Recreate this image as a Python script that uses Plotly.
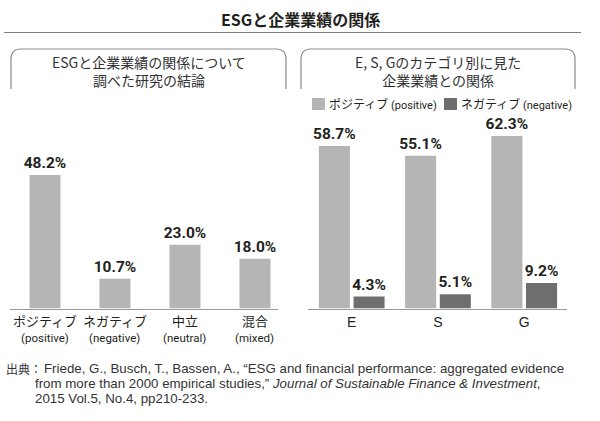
import plotly.graph_objects as go

W, H = 600, 421
def px(x): return x / W
def py(y): return 1 - y / H

# ---- data ----
main_title = "ESGと企業業績の関係"
left_title = "ESGと企業業績の関係について<br>調べた研究の結論"
right_title = "E, S, Gのカテゴリ別に見た<br>企業業績との関係"

left_cats = ["ポジティブ", "ネガティブ", "中立", "混合"]
left_sub = ["positive", "negative", "neutral", "mixed"]
left_vals = [48.2, 10.7, 23.0, 18.0]

right_cats = ["E", "S", "G"]
series_names = ["ポジティブ", "ネガティブ"]
series_sub = ["positive", "negative"]
pos_vals = [58.7, 55.1, 62.3]
neg_vals = [4.3, 5.1, 9.2]

source_head = "出典："
source_lines = [
    "Friede, G., Busch, T., Bassen, A., “ESG and financial performance: aggregated evidence",
    "from more than 2000 empirical studies,” <i>Journal of Sustainable Finance &amp; Investment</i>,",
    "2015 Vol.5, No.4, pp210-233.",
]

# ---- style ----
C_POS = "#b5b5b5"
C_NEG = "#6e6e6e"
CJK = "Noto Sans CJK JP"
NARROW = "Liberation Sans Narrow, Roboto, Noto Sans CJK JP"
LAT = "Liberation Sans, Arial, Noto Sans CJK JP"
TXT = "#231f20"

fig = go.Figure()

lbl_font = dict(family=NARROW, size=15.5, color=TXT, weight="bold")

fig.add_trace(go.Bar(
    x=left_cats, y=left_vals, xaxis="x", yaxis="y",
    marker=dict(color=C_POS, line=dict(width=0)), width=0.443,
    text=[f"{v:.1f}%" for v in left_vals], textposition="outside",
    constraintext="none",
    textfont=lbl_font, cliponaxis=False, showlegend=False,
))
fig.add_trace(go.Bar(
    x=right_cats, y=pos_vals, xaxis="x2", yaxis="y2", name=series_names[0],
    marker=dict(color=C_POS, line=dict(width=0)), width=0.36, offset=-0.381,
    text=[f"{v:.1f}%" for v in pos_vals], textposition="outside",
    constraintext="none",
    textfont=lbl_font, cliponaxis=False, showlegend=False,
))
fig.add_trace(go.Bar(
    x=right_cats, y=neg_vals, xaxis="x2", yaxis="y2", name=series_names[1],
    marker=dict(color=C_NEG, line=dict(width=0)), width=0.36, offset=0.021,
    text=[f"{v:.1f}%" for v in neg_vals], textposition="outside",
    constraintext="none",
    textfont=lbl_font, cliponaxis=False, showlegend=False,
))

ytop = 120
ymax = (308.5 - ytop) / 2.77
ax_common = dict(showline=True, linecolor="#9a9a9a", linewidth=1.5, ticks="",
                 showgrid=False, zeroline=False, type="category", fixedrange=True,
                 tickangle=0)

fig.update_layout(
    width=W, height=H, margin=dict(l=0, r=0, t=0, b=0),
    paper_bgcolor="white", plot_bgcolor="rgba(0,0,0,0)",
    barmode="overlay", showlegend=False,
    font=dict(family=CJK, color=TXT),
    xaxis=dict(**ax_common, domain=[px(10), px(278)], anchor="y",
               categoryarray=left_cats, range=[-0.5, 3.329],
               tickfont=dict(family=CJK, size=13, color=TXT)),
    yaxis=dict(domain=[py(308.5), py(ytop)], range=[0, ymax], visible=False, fixedrange=True),
    xaxis2=dict(**ax_common, domain=[px(308), px(567)], anchor="y2",
                categoryarray=right_cats, range=[-0.507, 2.496],
                tickfont=dict(family=LAT, size=14, color=TXT)),
    yaxis2=dict(domain=[py(308.5), py(ytop)], range=[0, ymax], visible=False, fixedrange=True),
)

shapes = []
shapes.append(dict(type="line", xref="paper", yref="paper",
                   x0=px(4), x1=px(581), y0=py(32.5), y1=py(32.5),
                   line=dict(color="#808080", width=1)))

def box(x0, x1, ytop_, ybot, r=10):
    pts = (f"M {px(x0)},{py(ybot)} L {px(x0)},{py(ytop_ + r)} "
           f"Q {px(x0)},{py(ytop_)} {px(x0 + r)},{py(ytop_)} "
           f"L {px(x1 - r)},{py(ytop_)} "
           f"Q {px(x1)},{py(ytop_)} {px(x1)},{py(ytop_ + r)} "
           f"L {px(x1)},{py(ybot)}")
    return dict(type="path", xref="paper", yref="paper", path=pts,
                line=dict(color="#8c8c8c", width=1.2))

shapes.append(box(11, 286, 49, 89))
shapes.append(box(301, 575, 49, 89))

leg_sq = [(312, 325), (444, 457)]
for (a, b), col in zip(leg_sq, [C_POS, C_NEG]):
    shapes.append(dict(type="rect", xref="paper", yref="paper",
                       x0=px(a), x1=px(b), y0=py(110), y1=py(98),
                       fillcolor=col, line=dict(width=0)))
fig.update_layout(shapes=shapes)

ann = []
ann.append(dict(text=main_title, x=px(300), y=py(19), xref="paper", yref="paper",
                showarrow=False, xanchor="center", yanchor="middle",
                font=dict(family=CJK, size=16, color=TXT, weight="bold")))
ann.append(dict(text=left_title, x=px(148.5), y=py(71), xref="paper", yref="paper",
                showarrow=False, xanchor="center", yanchor="middle",
                font=dict(family=CJK, size=14, color="#333333")))
ann.append(dict(text=right_title, x=px(438), y=py(71), xref="paper", yref="paper",
                showarrow=False, xanchor="center", yanchor="middle",
                font=dict(family=CJK, size=14, color="#333333")))
for xs, n, s in zip([327, 459], series_names, series_sub):
    ann.append(dict(text=f"{n}<span style='font-family:{NARROW};font-size:11px'> ({s})</span>",
                    x=px(xs), y=py(104), xref="paper", yref="paper",
                    showarrow=False, xanchor="left", yanchor="middle",
                    font=dict(family=CJK, size=12, color=TXT)))
for c, s in zip(left_cats, left_sub):
    ann.append(dict(text=f"({s})", x=c, xref="x", y=py(338), yref="paper",
                    showarrow=False, xanchor="center", yanchor="middle",
                    font=dict(family=NARROW, size=11.5, color=TXT)))
ann.append(dict(text=source_head, x=px(4), y=py(368), xref="paper", yref="paper",
                showarrow=False, xanchor="left", yanchor="middle",
                font=dict(family=CJK, size=12, color="#333333")))
src_x = [42, 33, 33]
for i, line in enumerate(source_lines):
    ann.append(dict(text=line, x=px(src_x[i]), y=py(368 + 15 * i), xref="paper", yref="paper",
                    showarrow=False, xanchor="left", yanchor="middle",
                    font=dict(family=LAT, size=13.3, color="#333333")))
fig.update_layout(annotations=ann)

fig.write_html("out.html", config={"displayModeBar": False, "staticPlot": True},
               post_script="document.body.style.margin='0px';document.body.style.overflow='hidden';")
